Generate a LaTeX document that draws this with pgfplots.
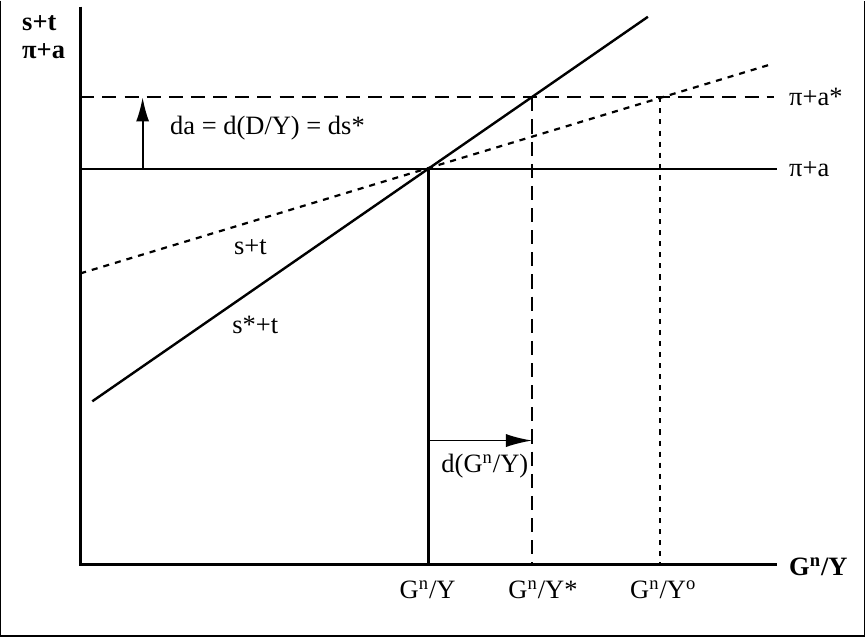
\documentclass[border=0pt]{standalone}
\usepackage{fontspec}
\setmainfont{Liberation Serif}
\usepackage{pgfplots}
\pgfplotsset{compat=1.18}
\usetikzlibrary{arrows.meta}

\begin{document}
\begin{tikzpicture}
\begin{axis}[
    scale only axis,
    width=432.5bp, height=317bp,
    xmin=-0.83, xmax=7.82,
    ymin=-0.74, ymax=5.60,
    axis lines=none,
    clip=false,
    font=\fontsize{13.2}{15}\selectfont,
]
% frame round the figure
\addplot[line width=0.7pt] coordinates {(-0.79,5.60) (-0.79,-0.71) (7.79,-0.71) (7.79,5.60)};
% axes
\addplot[line width=1.6pt] coordinates {(0,5.54) (0,0) (6.92,0)};
% pi+a and pi+a*
\addplot[line width=1.0pt] coordinates {(0,3.93) (6.92,3.93)};
\addplot[line width=1.0pt, dash pattern=on 7bp off 4bp] coordinates {(0,4.64) (6.89,4.64)};
% s*+t (solid) and s+t (dotted)
\addplot[line width=1.2pt] coordinates {(0.12,1.62) (5.64,5.44)};
\addplot[line width=1.1pt, dash pattern=on 3bp off 3bp] coordinates {(0,2.89) (6.87,4.97)};
% verticals
\addplot[line width=1.1pt] coordinates {(3.46,3.93) (3.46,0)};
\addplot[line width=1.1pt, dash pattern=on 7bp off 4bp] coordinates {(4.49,4.64) (4.49,0)};
\addplot[line width=1.1pt, dash pattern=on 2.5bp off 3bp] coordinates {(5.76,4.64) (5.76,0)};
% arrows
\addplot[line width=0.9pt, -{Latex[length=12bp,width=6.5bp]}] coordinates {(0.62,3.93) (0.62,4.64)};
\addplot[line width=0.9pt, -{Latex[length=13bp,width=6.5bp]}] coordinates {(3.46,1.23) (4.49,1.23)};
% labels
\node[anchor=west, inner sep=0pt, font=\fontsize{13.2}{15}\selectfont\bfseries] at (axis cs:-0.58,5.38) {s+t};
\node[anchor=west, inner sep=0pt, font=\fontsize{13.2}{15}\selectfont\bfseries] at (axis cs:-0.58,5.10) {π+a};
\node[anchor=west, inner sep=0pt] at (axis cs:0.89,4.33) {da = d(D/Y) = ds*};
\node at (axis cs:1.69,3.15) {s+t};
\node at (axis cs:1.74,2.38) {s*+t};
\node at (axis cs:4.02,0.98) {d(G\textsuperscript{n}/Y)};
\node[anchor=west, inner sep=0pt] at (axis cs:7.04,4.64) {π+a*};
\node[anchor=west, inner sep=0pt] at (axis cs:7.04,3.93) {π+a};
\node[anchor=west, inner sep=0pt, font=\fontsize{13.2}{15}\selectfont\bfseries] at (axis cs:7.04,-0.02) {G\textsuperscript{n}/Y};
\node[anchor=west, inner sep=0pt] at (axis cs:3.17,-0.25) {G\textsuperscript{n}/Y};
\node[anchor=west, inner sep=0pt] at (axis cs:4.25,-0.25) {G\textsuperscript{n}/Y*};
\node[anchor=west, inner sep=0pt] at (axis cs:5.46,-0.25) {G\textsuperscript{n}/Y\textsuperscript{o}};
\end{axis}
\end{tikzpicture}
\end{document}
